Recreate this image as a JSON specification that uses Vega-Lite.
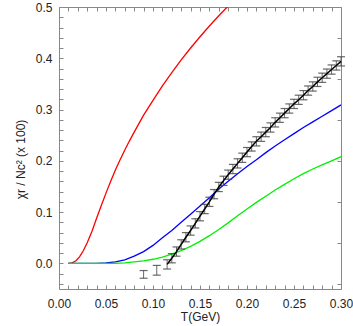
{
  "$schema": "https://vega.github.io/schema/vega-lite/v6.json",
  "width": 282,
  "height": 282,
  "autosize": "none",
  "padding": {"left": 59, "top": 7, "right": 12, "bottom": 37},
  "config": {
    "view": {"stroke": "#888", "strokeWidth": 1},
    "font": "Liberation Sans",
    "axis": {
      "grid": false,
      "domain": false,
      "tickColor": "#888",
      "ticks": true,
      "tickSize": 4,
      "offset": -4,
      "labelColor": "#222",
      "labelFontSize": 12,
      "labelFont": "Liberation Sans",
      "titleFont": "Liberation Sans",
      "titleFontWeight": "normal",
      "titleColor": "#222",
      "titleFontSize": 12
    }
  },
  "datasets": {
    "curves": [
      {"T": 0.010, "v": 0.000, "curve": "red"},
      {"T": 0.014, "v": 0.001, "curve": "red"},
      {"T": 0.018, "v": 0.005, "curve": "red"},
      {"T": 0.022, "v": 0.013, "curve": "red"},
      {"T": 0.026, "v": 0.025, "curve": "red"},
      {"T": 0.030, "v": 0.040, "curve": "red"},
      {"T": 0.035, "v": 0.062, "curve": "red"},
      {"T": 0.040, "v": 0.088, "curve": "red"},
      {"T": 0.045, "v": 0.113, "curve": "red"},
      {"T": 0.050, "v": 0.137, "curve": "red"},
      {"T": 0.055, "v": 0.160, "curve": "red"},
      {"T": 0.060, "v": 0.182, "curve": "red"},
      {"T": 0.065, "v": 0.202, "curve": "red"},
      {"T": 0.070, "v": 0.221, "curve": "red"},
      {"T": 0.075, "v": 0.239, "curve": "red"},
      {"T": 0.080, "v": 0.256, "curve": "red"},
      {"T": 0.090, "v": 0.289, "curve": "red"},
      {"T": 0.100, "v": 0.318, "curve": "red"},
      {"T": 0.110, "v": 0.346, "curve": "red"},
      {"T": 0.120, "v": 0.372, "curve": "red"},
      {"T": 0.130, "v": 0.397, "curve": "red"},
      {"T": 0.140, "v": 0.420, "curve": "red"},
      {"T": 0.150, "v": 0.442, "curve": "red"},
      {"T": 0.160, "v": 0.463, "curve": "red"},
      {"T": 0.170, "v": 0.483, "curve": "red"},
      {"T": 0.180, "v": 0.502, "curve": "red"},
      {"T": 0.190, "v": 0.520, "curve": "red"},
      {"T": 0.010, "v": 0.000, "curve": "blue"},
      {"T": 0.040, "v": 0.000, "curve": "blue"},
      {"T": 0.050, "v": 0.001, "curve": "blue"},
      {"T": 0.060, "v": 0.003, "curve": "blue"},
      {"T": 0.070, "v": 0.007, "curve": "blue"},
      {"T": 0.080, "v": 0.014, "curve": "blue"},
      {"T": 0.090, "v": 0.023, "curve": "blue"},
      {"T": 0.100, "v": 0.035, "curve": "blue"},
      {"T": 0.110, "v": 0.050, "curve": "blue"},
      {"T": 0.120, "v": 0.064, "curve": "blue"},
      {"T": 0.130, "v": 0.080, "curve": "blue"},
      {"T": 0.140, "v": 0.096, "curve": "blue"},
      {"T": 0.150, "v": 0.112, "curve": "blue"},
      {"T": 0.160, "v": 0.128, "curve": "blue"},
      {"T": 0.170, "v": 0.145, "curve": "blue"},
      {"T": 0.180, "v": 0.160, "curve": "blue"},
      {"T": 0.190, "v": 0.175, "curve": "blue"},
      {"T": 0.200, "v": 0.189, "curve": "blue"},
      {"T": 0.210, "v": 0.202, "curve": "blue"},
      {"T": 0.220, "v": 0.216, "curve": "blue"},
      {"T": 0.230, "v": 0.229, "curve": "blue"},
      {"T": 0.240, "v": 0.241, "curve": "blue"},
      {"T": 0.250, "v": 0.253, "curve": "blue"},
      {"T": 0.260, "v": 0.265, "curve": "blue"},
      {"T": 0.270, "v": 0.276, "curve": "blue"},
      {"T": 0.280, "v": 0.287, "curve": "blue"},
      {"T": 0.290, "v": 0.298, "curve": "blue"},
      {"T": 0.300, "v": 0.309, "curve": "blue"},
      {"T": 0.010, "v": 0.000, "curve": "green"},
      {"T": 0.060, "v": 0.000, "curve": "green"},
      {"T": 0.070, "v": 0.001, "curve": "green"},
      {"T": 0.080, "v": 0.003, "curve": "green"},
      {"T": 0.090, "v": 0.005, "curve": "green"},
      {"T": 0.100, "v": 0.008, "curve": "green"},
      {"T": 0.110, "v": 0.012, "curve": "green"},
      {"T": 0.120, "v": 0.018, "curve": "green"},
      {"T": 0.130, "v": 0.025, "curve": "green"},
      {"T": 0.140, "v": 0.033, "curve": "green"},
      {"T": 0.150, "v": 0.043, "curve": "green"},
      {"T": 0.160, "v": 0.054, "curve": "green"},
      {"T": 0.170, "v": 0.066, "curve": "green"},
      {"T": 0.180, "v": 0.079, "curve": "green"},
      {"T": 0.190, "v": 0.093, "curve": "green"},
      {"T": 0.200, "v": 0.106, "curve": "green"},
      {"T": 0.210, "v": 0.119, "curve": "green"},
      {"T": 0.220, "v": 0.131, "curve": "green"},
      {"T": 0.230, "v": 0.143, "curve": "green"},
      {"T": 0.240, "v": 0.154, "curve": "green"},
      {"T": 0.250, "v": 0.165, "curve": "green"},
      {"T": 0.260, "v": 0.175, "curve": "green"},
      {"T": 0.270, "v": 0.184, "curve": "green"},
      {"T": 0.280, "v": 0.192, "curve": "green"},
      {"T": 0.290, "v": 0.200, "curve": "green"},
      {"T": 0.300, "v": 0.208, "curve": "green"}
    ],
    "lattice": [
      {"T": 0.090, "v": -0.021, "lo": -0.029, "hi": -0.014},
      {"T": 0.104, "v": -0.013, "lo": -0.023, "hi": -0.004},
      {"T": 0.115, "v": -0.002, "lo": -0.011, "hi": 0.007},
      {"T": 0.120, "v": 0.010, "lo": 0.001, "hi": 0.019},
      {"T": 0.125, "v": 0.023, "lo": 0.014, "hi": 0.032},
      {"T": 0.130, "v": 0.037, "lo": 0.028, "hi": 0.046},
      {"T": 0.135, "v": 0.051, "lo": 0.042, "hi": 0.060},
      {"T": 0.140, "v": 0.064, "lo": 0.055, "hi": 0.073},
      {"T": 0.145, "v": 0.078, "lo": 0.069, "hi": 0.087},
      {"T": 0.150, "v": 0.092, "lo": 0.083, "hi": 0.101},
      {"T": 0.155, "v": 0.106, "lo": 0.097, "hi": 0.115},
      {"T": 0.160, "v": 0.120, "lo": 0.111, "hi": 0.129},
      {"T": 0.165, "v": 0.135, "lo": 0.126, "hi": 0.144},
      {"T": 0.170, "v": 0.149, "lo": 0.140, "hi": 0.158},
      {"T": 0.175, "v": 0.161, "lo": 0.152, "hi": 0.170},
      {"T": 0.180, "v": 0.173, "lo": 0.164, "hi": 0.182},
      {"T": 0.185, "v": 0.184, "lo": 0.175, "hi": 0.193},
      {"T": 0.190, "v": 0.195, "lo": 0.186, "hi": 0.204},
      {"T": 0.195, "v": 0.206, "lo": 0.197, "hi": 0.215},
      {"T": 0.200, "v": 0.217, "lo": 0.208, "hi": 0.226},
      {"T": 0.205, "v": 0.228, "lo": 0.219, "hi": 0.237},
      {"T": 0.210, "v": 0.238, "lo": 0.229, "hi": 0.247},
      {"T": 0.215, "v": 0.247, "lo": 0.238, "hi": 0.256},
      {"T": 0.220, "v": 0.256, "lo": 0.247, "hi": 0.265},
      {"T": 0.225, "v": 0.265, "lo": 0.256, "hi": 0.274},
      {"T": 0.230, "v": 0.275, "lo": 0.266, "hi": 0.284},
      {"T": 0.235, "v": 0.284, "lo": 0.275, "hi": 0.293},
      {"T": 0.240, "v": 0.293, "lo": 0.284, "hi": 0.302},
      {"T": 0.245, "v": 0.302, "lo": 0.293, "hi": 0.311},
      {"T": 0.250, "v": 0.311, "lo": 0.302, "hi": 0.320},
      {"T": 0.255, "v": 0.319, "lo": 0.310, "hi": 0.328},
      {"T": 0.260, "v": 0.328, "lo": 0.319, "hi": 0.337},
      {"T": 0.265, "v": 0.337, "lo": 0.328, "hi": 0.346},
      {"T": 0.270, "v": 0.345, "lo": 0.336, "hi": 0.354},
      {"T": 0.275, "v": 0.354, "lo": 0.345, "hi": 0.363},
      {"T": 0.280, "v": 0.362, "lo": 0.353, "hi": 0.371},
      {"T": 0.285, "v": 0.370, "lo": 0.361, "hi": 0.379},
      {"T": 0.290, "v": 0.378, "lo": 0.369, "hi": 0.387},
      {"T": 0.295, "v": 0.386, "lo": 0.377, "hi": 0.395},
      {"T": 0.300, "v": 0.394, "lo": 0.385, "hi": 0.403}
    ]
  },
  "layer": [
    {
      "data": {"name": "curves"},
      "mark": {"type": "line", "strokeWidth": 1.3, "clip": true},
      "encoding": {
        "x": {
          "field": "T", "type": "quantitative",
          "scale": {"domain": [0, 0.3], "nice": false, "zero": false},
          "axis": {
            "orient": "bottom",
            "values": [0,0.01,0.02,0.03,0.04,0.05,0.06,0.07,0.08,0.09,0.1,0.11,0.12,0.13,0.14,0.15,0.16,0.17,0.18,0.19,0.2,0.21,0.22,0.23,0.24,0.25,0.26,0.27,0.28,0.29,0.3],
            "labelExpr": "round(datum.value*100) % 5 == 0 ? format(datum.value, '.2f') : ''",
            "labelPadding": 9,
            "labelFlush": false,
            "labelOverlap": false,
            "title": "T(GeV)",
            "titleY": 26,
            "titleBaseline": "top"
          }
        },
        "y": {
          "field": "v", "type": "quantitative",
          "scale": {"domain": [-0.05, 0.5], "nice": false, "zero": false},
          "axis": {
            "orient": "left",
            "values": [-0.04,-0.02,0,0.02,0.04,0.06,0.08,0.1,0.12,0.14,0.16,0.18,0.2,0.22,0.24,0.26,0.28,0.3,0.32,0.34,0.36,0.38,0.4,0.42,0.44,0.46,0.48,0.5],
            "labelExpr": "round(datum.value*100) % 10 == 0 ? format(datum.value, '.1f') : ''",
            "labelPadding": 7,
            "labelFlush": false,
            "labelOverlap": false,
            "title": "χr / Nc² (x 100)",
            "titleFontSize": 12,
            "titleX": -43,
            "titleY": 152,
            "titleAngle": -90,
            "titleAlign": "center",
            "titleBaseline": "middle"
          }
        },
        "color": {
          "field": "curve", "type": "nominal",
          "scale": {"domain": ["red", "blue", "green"], "range": ["#ff0000", "#0000ff", "#00f000"]},
          "legend": null
        }
      }
    },
    {
      "data": {"name": "lattice"},
      "encoding": {
        "x": {
          "field": "T", "type": "quantitative",
          "scale": {"domain": [0, 0.3], "nice": false, "zero": false},
          "axis": {
            "orient": "top",
            "values": [0,0.01,0.02,0.03,0.04,0.05,0.06,0.07,0.08,0.09,0.1,0.11,0.12,0.13,0.14,0.15,0.16,0.17,0.18,0.19,0.2,0.21,0.22,0.23,0.24,0.25,0.26,0.27,0.28,0.29,0.3],
            "labels": false,
            "title": null
          }
        }
      },
      "layer": [
        {
          "mark": {"type": "rule", "color": "#444", "strokeWidth": 1, "opacity": 0.8},
          "encoding": {
            "y": {"field": "lo", "type": "quantitative", "scale": {"domain": [-0.05, 0.5], "nice": false, "zero": false},
              "axis": {"orient": "right", "values": [-0.04,-0.02,0,0.02,0.04,0.06,0.08,0.1,0.12,0.14,0.16,0.18,0.2,0.22,0.24,0.26,0.28,0.3,0.32,0.34,0.36,0.38,0.4,0.42,0.44,0.46,0.48,0.5], "labels": false, "title": null}},
            "y2": {"field": "hi"}
          }
        },
        {
          "mark": {"type": "point", "shape": "M-1,0L1,0", "size": 64, "filled": false, "color": "#444", "strokeWidth": 1.2, "opacity": 0.8},
          "encoding": {
            "y": {"field": "lo", "type": "quantitative"}
          }
        },
        {
          "mark": {"type": "point", "shape": "M-1,0L1,0", "size": 64, "filled": false, "color": "#444", "strokeWidth": 1.2, "opacity": 0.8},
          "encoding": {
            "y": {"field": "hi", "type": "quantitative"}
          }
        },
        {
          "transform": [{"filter": "datum.T > 0.11"}],
          "mark": {"type": "line", "color": "#000", "strokeWidth": 1.5},
          "encoding": {
            "y": {"field": "v", "type": "quantitative"}
          }
        }
      ]
    }
  ],
  "resolve": {"axis": {"x": "independent", "y": "independent"}}
}
